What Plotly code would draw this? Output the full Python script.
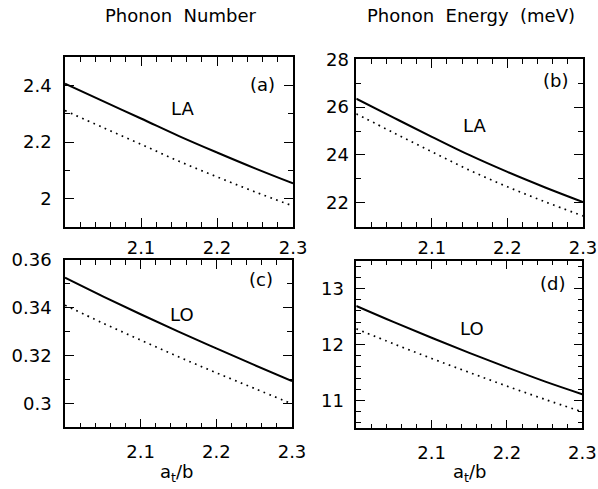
import plotly.graph_objects as go

x = [2.0, 2.05, 2.1, 2.15, 2.2, 2.25, 2.3]

num_la_solid = [2.406, 2.344, 2.283, 2.221, 2.163, 2.107, 2.054]
num_la_dot = [2.311, 2.251, 2.192, 2.132, 2.077, 2.024, 1.974]
en_la_solid = [26.35, 25.55, 24.76, 23.99, 23.29, 22.64, 22.03]
en_la_dot = [25.72, 24.92, 24.13, 23.36, 22.67, 22.04, 21.45]
num_lo_solid = [0.3526, 0.3448, 0.3373, 0.3300, 0.3230, 0.3161, 0.3093]
num_lo_dot = [0.3411, 0.3336, 0.3265, 0.3195, 0.3128, 0.3063, 0.2998]
en_lo_solid = [12.69, 12.40, 12.12, 11.85, 11.59, 11.34, 11.11]
en_lo_dot = [12.28, 12.01, 11.75, 11.50, 11.255, 11.02, 10.795]

x_ticks = [2.1, 2.2, 2.3]
x_ticklabels = ["2.1", "2.2", "2.3"]

panels = [
    dict(solid=num_la_solid, dot=num_la_dot, yr=[1.9, 2.5], yt=[2.0, 2.2, 2.4], ytl=["2", "2.2", "2.4"], ym=0.1,
         tag="(a)", tagpos=(2.26, 2.404), lab="LA", labpos=(2.155, 2.32),
         xd=[0.1087, 0.49], yd=[0.5358, 0.8834], sto=8, xsto=4),
    dict(solid=en_la_solid, dot=en_la_dot, yr=[21, 28], yt=[22, 24, 26, 28], ytl=["22", "24", "26", "28"], ym=1,
         tag="(b)", tagpos=(2.263, 27.1), lab="LA", labpos=(2.157, 25.22),
         xd=[0.5958, 0.9749], yd=[0.5364, 0.8787], sto=2, xsto=4),
    dict(solid=num_lo_solid, dot=num_lo_dot, yr=[0.29, 0.36], yt=[0.30, 0.32, 0.34, 0.36], ytl=["0.3", "0.32", "0.34", "0.36"], ym=0.01,
         tag="(c)", tagpos=(2.259, 0.3519), lab="LO", labpos=(2.155, 0.3372),
         xd=[0.1087, 0.4883], yd=[0.1262, 0.4683], sto=8, xsto=7),
    dict(solid=en_lo_solid, dot=en_lo_dot, yr=[10.5, 13.5], yt=[11, 12, 13], ytl=["11", "12", "13"], ym=0.2,
         tag="(d)", tagpos=(2.26, 13.1), lab="LO", labpos=(2.154, 12.29),
         xd=[0.5958, 0.9737], yd=[0.1241, 0.4669], sto=7, xsto=7),
]

FONT = "DejaVu Sans, sans-serif"
fig = go.Figure()
annotations = []
for i, p in enumerate(panels):
    n = "" if i == 0 else str(i + 1)
    xa, ya = "x" + n, "y" + n
    fig.add_trace(go.Scatter(x=x, y=p["solid"], mode="lines", line=dict(color="black", width=2, shape="spline"),
                             xaxis=xa, yaxis=ya, showlegend=False, hoverinfo="skip"))
    fig.add_trace(go.Scatter(x=x, y=p["dot"], mode="lines", line=dict(color="black", width=1.7, dash="1.7px,4.5px", shape="spline"),
                             xaxis=xa, yaxis=ya, showlegend=False, hoverinfo="skip"))
    axcommon = dict(showgrid=False, zeroline=False, showline=True, linecolor="black", linewidth=1.5,
                    mirror="allticks", ticks="inside", ticklen=9, tickwidth=1.3, tickcolor="black",
                    automargin=False, tickfont=dict(family=FONT, size=18, color="black"))
    fig.layout["xaxis" + n] = dict(axcommon, domain=p["xd"], range=[2.0, 2.3], tickvals=x_ticks, ticktext=x_ticklabels,
                                   anchor=ya, ticklabelstandoff=p["xsto"],
                                   minor=dict(dtick=0.02, tick0=2.0, ticks="inside", ticklen=5, tickcolor="black", tickwidth=1.2))
    fig.layout["yaxis" + n] = dict(axcommon, domain=p["yd"], range=p["yr"], tickvals=p["yt"], ticktext=p["ytl"],
                                   anchor=xa, ticklabelstandoff=p["sto"],
                                   minor=dict(dtick=p["ym"], tick0=p["yt"][0], ticks="inside", ticklen=5, tickcolor="black", tickwidth=1.2))
    annotations.append(dict(x=p["tagpos"][0], y=p["tagpos"][1], xref=xa, yref=ya, text=p["tag"], showarrow=False,
                            xanchor="center", yanchor="middle", font=dict(family=FONT, size=18, color="black")))
    annotations.append(dict(x=p["labpos"][0], y=p["labpos"][1], xref=xa, yref=ya, text=p["lab"], showarrow=False,
                            xanchor="center", yanchor="middle", font=dict(family=FONT, size=18, color="black")))

annotations += [
    dict(x=180 / 598, y=1 - 15 / 489, xref="paper", yref="paper", text="Phonon&nbsp;&nbsp;Number", showarrow=False,
         xanchor="center", yanchor="middle", font=dict(family=FONT, size=18, color="black")),
    dict(x=471 / 598, y=1 - 15 / 489, xref="paper", yref="paper", text="Phonon&nbsp;&nbsp;Energy&nbsp;&nbsp;(meV)", showarrow=False,
         xanchor="center", yanchor="middle", font=dict(family=FONT, size=18, color="black")),
    dict(x=176 / 598, y=1 - 473 / 489, xref="paper", yref="paper", text="a<sub>t</sub>/b", showarrow=False,
         xanchor="center", yanchor="middle", font=dict(family=FONT, size=18, color="black")),
    dict(x=469 / 598, y=1 - 473 / 489, xref="paper", yref="paper", text="a<sub>t</sub>/b", showarrow=False,
         xanchor="center", yanchor="middle", font=dict(family=FONT, size=18, color="black")),
]

fig.update_layout(width=598, height=489, margin=dict(l=0, r=0, t=0, b=0), paper_bgcolor="white",
                  plot_bgcolor="white", annotations=annotations, showlegend=False)
fig.write_html("out.html")
